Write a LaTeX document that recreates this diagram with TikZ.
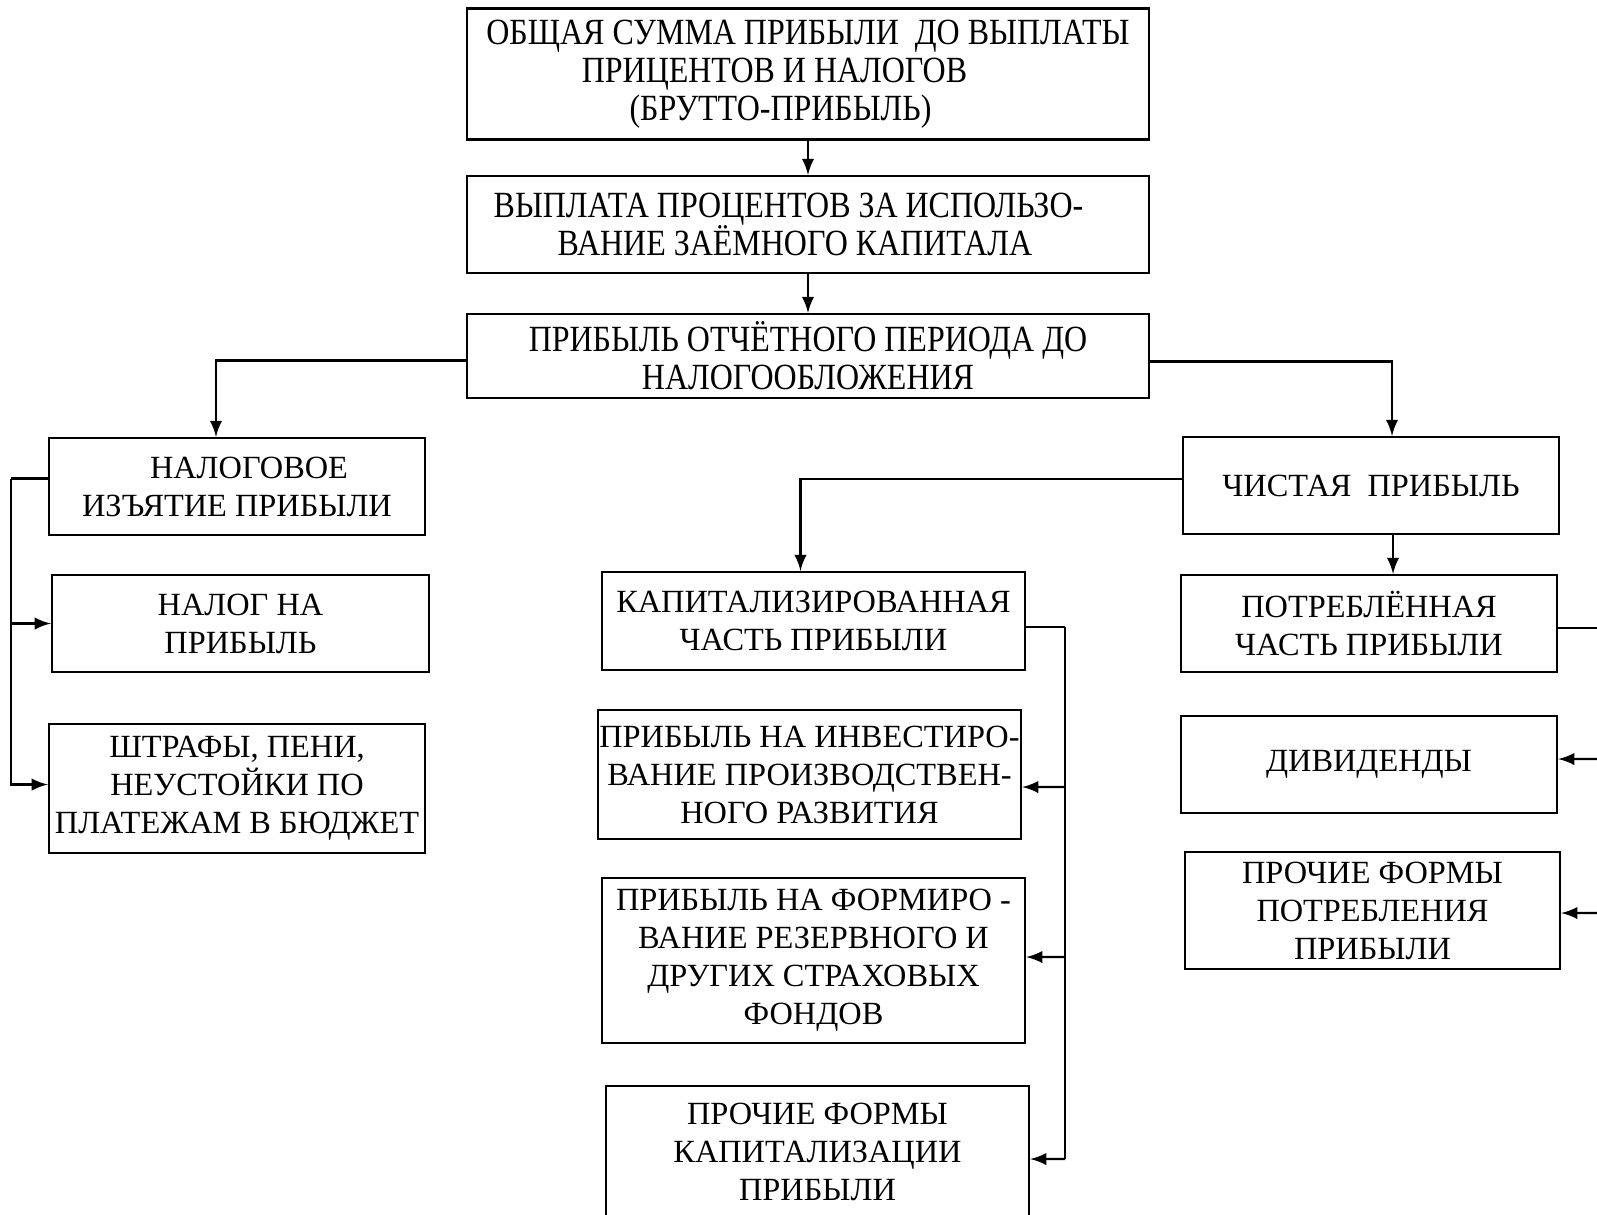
\documentclass[tikz,border=0pt]{standalone}
\usepackage{fontspec}
\setmainfont{Liberation Serif}
\newfontfamily\narrowserif[FakeStretch=0.866]{Liberation Serif}
\usetikzlibrary{positioning, arrows}
\newcommand{\tightlines}{\lineskiplimit -20pt\relax}

\begin{document}
\begin{tikzpicture}[x=0.01cm, y=-0.01cm, >=latex, line width=0.6pt,
    box/.style={draw, align=center, inner sep=0pt, font={\fontsize{9.2}{10.8}\selectfont\tightlines}},
    topbox/.style={box, minimum width=6.82cm, font={\narrowserif\fontsize{10.5}{10.8}\selectfont\tightlines}}]
    \useasboundingbox (0,0) rectangle (1597,1214);

    % upper chain
    \node[topbox, minimum height=1.31cm] (p_gross) at (808,74)
        {ОБЩАЯ СУММА ПРИБЫЛИ \ ДО ВЫПЛАТЫ\\ПРИЦЕНТОВ И НАЛОГОВ\hspace*{0.67cm}\hbox{}\\(БРУТТО-ПРИБЫЛЬ)\hspace*{0.55cm}\hbox{}};
    \node[topbox, minimum height=0.97cm] (p_interest) at (808,224.5)
        {ВЫПЛАТА ПРОЦЕНТОВ ЗА ИСПОЛЬЗО-\hspace*{0.39cm}\hbox{}\\ВАНИЕ ЗАЁМНОГО КАПИТАЛА\hspace*{0.26cm}\hbox{}};
    \node[topbox, minimum height=0.84cm] (p_pretax) at (808,356)
        {ПРИБЫЛЬ ОТЧЁТНОГО ПЕРИОДА ДО\\НАЛОГООБЛОЖЕНИЯ};

    % left branch
    \node[box, minimum width=3.76cm, minimum height=0.97cm] (p_tax) at (237,486.5)
        {\hbox{}\hspace*{0.24cm}НАЛОГОВОЕ\\ИЗЪЯТИЕ ПРИБЫЛИ};
    \node[box, minimum width=3.77cm, minimum height=0.97cm] (p_taxrate) at (240.5,623.5)
        {НАЛОГ НА\\ПРИБЫЛЬ};
    \node[box, minimum width=3.76cm, minimum height=1.29cm] (p_fines) at (237,788.5)
        {ШТРАФЫ, ПЕНИ,\\НЕУСТОЙКИ ПО\\ПЛАТЕЖАМ В БЮДЖЕТ};

    % right branch
    \node[box, minimum width=3.76cm, minimum height=0.97cm] (p_net) at (1371,485.5)
        {ЧИСТАЯ \ ПРИБЫЛЬ};
    \node[box, minimum width=3.76cm, minimum height=0.97cm] (p_consumed) at (1369,623.5)
        {ПОТРЕБЛЁННАЯ\\ЧАСТЬ ПРИБЫЛИ};
    \node[box, minimum width=3.76cm, minimum height=0.97cm] (p_dividend) at (1369,764.5)
        {ДИВИДЕНДЫ};
    \node[box, minimum width=3.75cm, minimum height=1.17cm] (p_otheruse) at (1372.5,910.5)
        {ПРОЧИЕ ФОРМЫ\\ПОТРЕБЛЕНИЯ\\ПРИБЫЛИ};

    % middle branch
    \node[box, minimum width=4.23cm, minimum height=0.98cm] (p_capital) at (813.5,621)
        {КАПИТАЛИЗИРОВАННАЯ\\ЧАСТЬ ПРИБЫЛИ};
    \node[box, minimum width=4.23cm, minimum height=1.29cm] (p_invest) at (809.5,774.5)
        {ПРИБЫЛЬ НА ИНВЕСТИРО-\\ВАНИЕ ПРОИЗВОДСТВЕН-\\НОГО РАЗВИТИЯ};
    \node[box, minimum width=4.23cm, minimum height=1.65cm] (p_reserve) at (813.5,960.5)
        {ПРИБЫЛЬ НА ФОРМИРО -\\ВАНИЕ РЕЗЕРВНОГО И\\ДРУГИХ СТРАХОВЫХ\\ФОНДОВ};
    \node[box, minimum width=4.23cm, minimum height=1.32cm] (p_othercap) at (817.5,1152)
        {ПРОЧИЕ ФОРМЫ\\КАПИТАЛИЗАЦИИ\\ПРИБЫЛИ};

    % connectors
    \path[->]
        (p_gross) edge (p_interest)
        (p_interest) edge (p_pretax);
    \draw[->] ([yshift=-0.045cm]p_pretax.west) -| ([xshift=-0.21cm]p_tax.north);
    \draw[->] ([yshift=-0.055cm]p_pretax.east) -| ([xshift=0.21cm]p_net.north);

    \draw ([yshift=0.08cm]p_tax.west) -- ++(-37,0) coordinate (l_trunk);
    \draw[->] (l_trunk) |- ([yshift=0.04cm]p_fines.west);
    \draw[->] (l_trunk |- p_taxrate.west) -- (p_taxrate.west);

    \draw[->] ([yshift=0.065cm]p_net.west) -| ([xshift=-0.13cm]p_capital.north);
    \draw[->] ([xshift=0.22cm]p_net.south) coordinate (n_drop) -- (n_drop |- p_consumed.north);

    \draw ([yshift=-0.06cm]p_capital.east) -- ++(39,0) coordinate (c_trunk);
    \draw (c_trunk) -- (c_trunk |- 0,1159);
    \draw[->] (c_trunk |- 0,787) -- ([yshift=-0.125cm]p_invest.east);
    \draw[->] (c_trunk |- 0,957) -- ([yshift=0.035cm]p_reserve.east);
    \draw[->] (c_trunk |- 0,1159) -- ([yshift=-0.07cm]p_othercap.east);

    \draw ([yshift=-0.045cm]p_consumed.east) -- ++(60,0) coordinate (r_trunk);
    \draw (r_trunk) -- (r_trunk |- 0,913);
    \draw[->] (r_trunk |- 0,759) -- ([yshift=0.055cm]p_dividend.east);
    \draw[->] (r_trunk |- 0,913) -- ([yshift=-0.025cm]p_otheruse.east);
\end{tikzpicture}
\end{document}
